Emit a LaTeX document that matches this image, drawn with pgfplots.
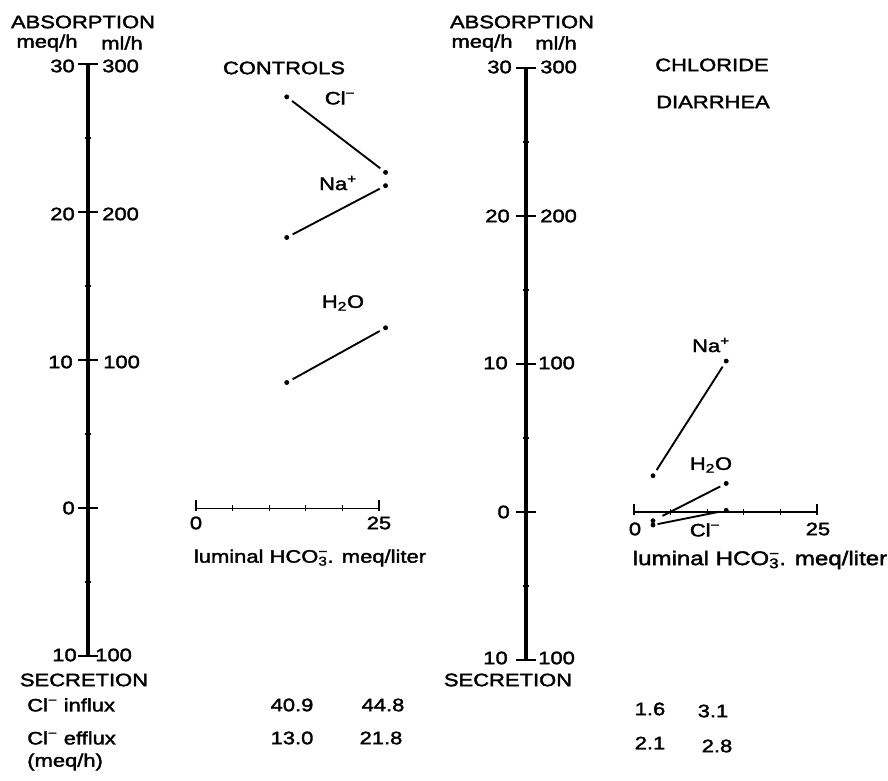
\documentclass[border=0pt]{standalone}
\usepackage{pgfplots}
\pgfplotsset{compat=1.18}
\usepackage{fontspec}
\setmainfont{Liberation Sans}[FakeStretch=1.22, FakeBold=2]
\newcommand{\sz}{\fontsize{13.5}{16}\selectfont}
\newcommand{\szb}{\fontsize{14.8}{17}\selectfont}
\begin{document}
\begin{tikzpicture}
\path[use as bounding box] (0pt,0pt) rectangle (666pt,585.75pt);
\pgfplotsset{panel/.style={
  anchor=south west, x=5.49pt, y=11.1pt,
  xmin=-14.75, xmax=27, ymin=-10, ymax=30,
  axis x line=none, axis y line=left,
  y axis line style={line width=3pt,-},
  ytick={-10,0,10,20,30}, minor ytick={-5,5,15,25},
  yticklabels={,,,,}, xtick=\empty,
  tick align=center, major tick length=15pt, minor tick length=4.5pt,
  every tick/.style={black, line width=1.3pt},
  clip=false},
  dl/.style={black, mark=none, line width=1.4pt, shorten <=5pt, shorten >=5pt},
  dm/.style={black, only marks, mark=*, mark size=1.6pt}}
% ---------------- CONTROLS ----------------
\begin{axis}[panel, at={(66pt,93.5pt)}]
\draw[line width=1.2pt] (axis cs:0,0) -- (axis cs:25,0);
\draw[line width=1.2pt] (axis cs:0,0) ++(0pt,-2pt) -- ++(0pt,8pt);
\draw[line width=1.2pt] (axis cs:25,0) ++(0pt,-2pt) -- ++(0pt,8pt);
\draw[line width=1pt] (axis cs:5,0) ++(0pt,-2.2pt) -- ++(0pt,4.4pt);
\draw[line width=1pt] (axis cs:10,0) ++(0pt,-2.2pt) -- ++(0pt,4.4pt);
\draw[line width=1pt] (axis cs:15,0) ++(0pt,-2.2pt) -- ++(0pt,4.4pt);
\draw[line width=1pt] (axis cs:20,0) ++(0pt,-2.2pt) -- ++(0pt,4.4pt);
% Cl-
\addplot[dl] coordinates {(12.4,27.8) (25.9,22.7)};
% Na+
\addplot[dl] coordinates {(12.4,18.3) (25.9,21.8)};
% H2O (ml/h divided by 10)
\addplot[dl] coordinates {(12.4,8.5) (25.9,12.2)};
\addplot[dm] coordinates {(12.4,27.8) (25.9,22.7) (12.4,18.3) (25.9,21.8) (12.4,8.5) (25.9,12.2)};
\end{axis}
% ---------------- CHLORIDE DIARRHEA ----------------
\begin{axis}[panel, at={(394.5pt,90.75pt)}]
\draw[line width=1.2pt] (axis cs:0,0) -- (axis cs:25,0);
\draw[line width=1.2pt] (axis cs:0,0) ++(0pt,-2pt) -- ++(0pt,8pt);
\draw[line width=1.2pt] (axis cs:25,0) ++(0pt,-2pt) -- ++(0pt,8pt);
\draw[line width=1pt] (axis cs:5,0) ++(0pt,-2.2pt) -- ++(0pt,4.4pt);
\draw[line width=1pt] (axis cs:10,0) ++(0pt,-2.2pt) -- ++(0pt,4.4pt);
\draw[line width=1pt] (axis cs:15,0) ++(0pt,-2.2pt) -- ++(0pt,4.4pt);
\draw[line width=1pt] (axis cs:20,0) ++(0pt,-2.2pt) -- ++(0pt,4.4pt);
% Na+
\addplot[dl] coordinates {(2.6,2.45) (12.6,10.2)};
% H2O
\addplot[dl, shorten <=8pt] coordinates {(2.6,-0.59) (12.6,1.93)};
% Cl-
\addplot[dl, shorten <=3.5pt] coordinates {(2.6,-0.88) (12.6,0.11)};
\addplot[dm] coordinates {(2.6,2.45) (12.6,10.2) (2.6,-0.59) (12.6,1.93) (2.6,-0.88) (12.6,0.11)};
\end{axis}
\begin{scope}[x=0.75pt, y=0.75pt, every node/.style={inner sep=0pt, font=\sz}]
% ---------------- texts, left ----------------
\node at (83,759) {ABSORPTION};
\node at (47,738) {meq/h};
\node at (122,738) {ml/h};
\node[anchor=east] at (75,715) {30};
\node[anchor=west] at (102,715) {300};
\node[anchor=east] at (75,567) {20};
\node[anchor=west] at (102,567) {200};
\node[anchor=east] at (73,419) {10};
\node[anchor=west] at (103,419) {100};
\node[anchor=east] at (75,273) {0};
\node[anchor=east] at (77,126) {10};
\node[anchor=west] at (95,126) {100};
\node at (84,101) {SECRETION};
\node[anchor=west] at (27,76) {Cl\textsuperscript{−} influx};
\node[anchor=west] at (27,43) {Cl\textsuperscript{−} efflux};
\node[anchor=west] at (27,19) {(meq/h)};
\node at (292,76) {40.9};
\node at (383,76) {44.8};
\node at (292,43) {13.0};
\node at (381,43) {21.8};
\node at (284,713) {CONTROLS};
\node at (340,683) {Cl\textsuperscript{−}};
\node at (338,598) {Na\textsuperscript{+}};
\node at (343,478) {H\textsubscript{2}O};
\node at (196,258) {0};
\node at (379,258) {25};
\node at (310,223) {luminal HCO\rlap{\textsuperscript{−}}\textsubscript{3}. meq/liter};
% ---------------- texts, right ----------------
\node at (522,759) {ABSORPTION};
\node at (482,738) {meq/h};
\node at (556,738) {ml/h};
\node[anchor=east] at (512,714) {30};
\node[anchor=west] at (540,714) {300};
\node[anchor=east] at (510,565) {20};
\node[anchor=west] at (540,565) {200};
\node[anchor=east] at (508,418) {10};
\node[anchor=west] at (538,418) {100};
\node[anchor=east] at (510,269) {0};
\node[anchor=east] at (508,123) {10};
\node[anchor=west] at (538,123) {100};
\node at (508,101) {SECRETION};
\node at (712,716) {CHLORIDE};
\node at (713,679) {DIARRHEA};
\node at (711,436) {Na\textsuperscript{+}};
\node at (711,316) {H\textsubscript{2}O};
\node at (705,251) {Cl\textsuperscript{−}};
\node at (635,252) {0};
\node at (818,252) {25};
\node[font=\szb] at (760,221) {luminal HCO\rlap{\textsuperscript{−}}\textsubscript{3}. meq/liter};
\node at (650,72) {1.6};
\node at (713,70) {3.1};
\node at (650,38) {2.1};
\node at (717,35) {2.8};
\end{scope}
\end{tikzpicture}
\end{document}
